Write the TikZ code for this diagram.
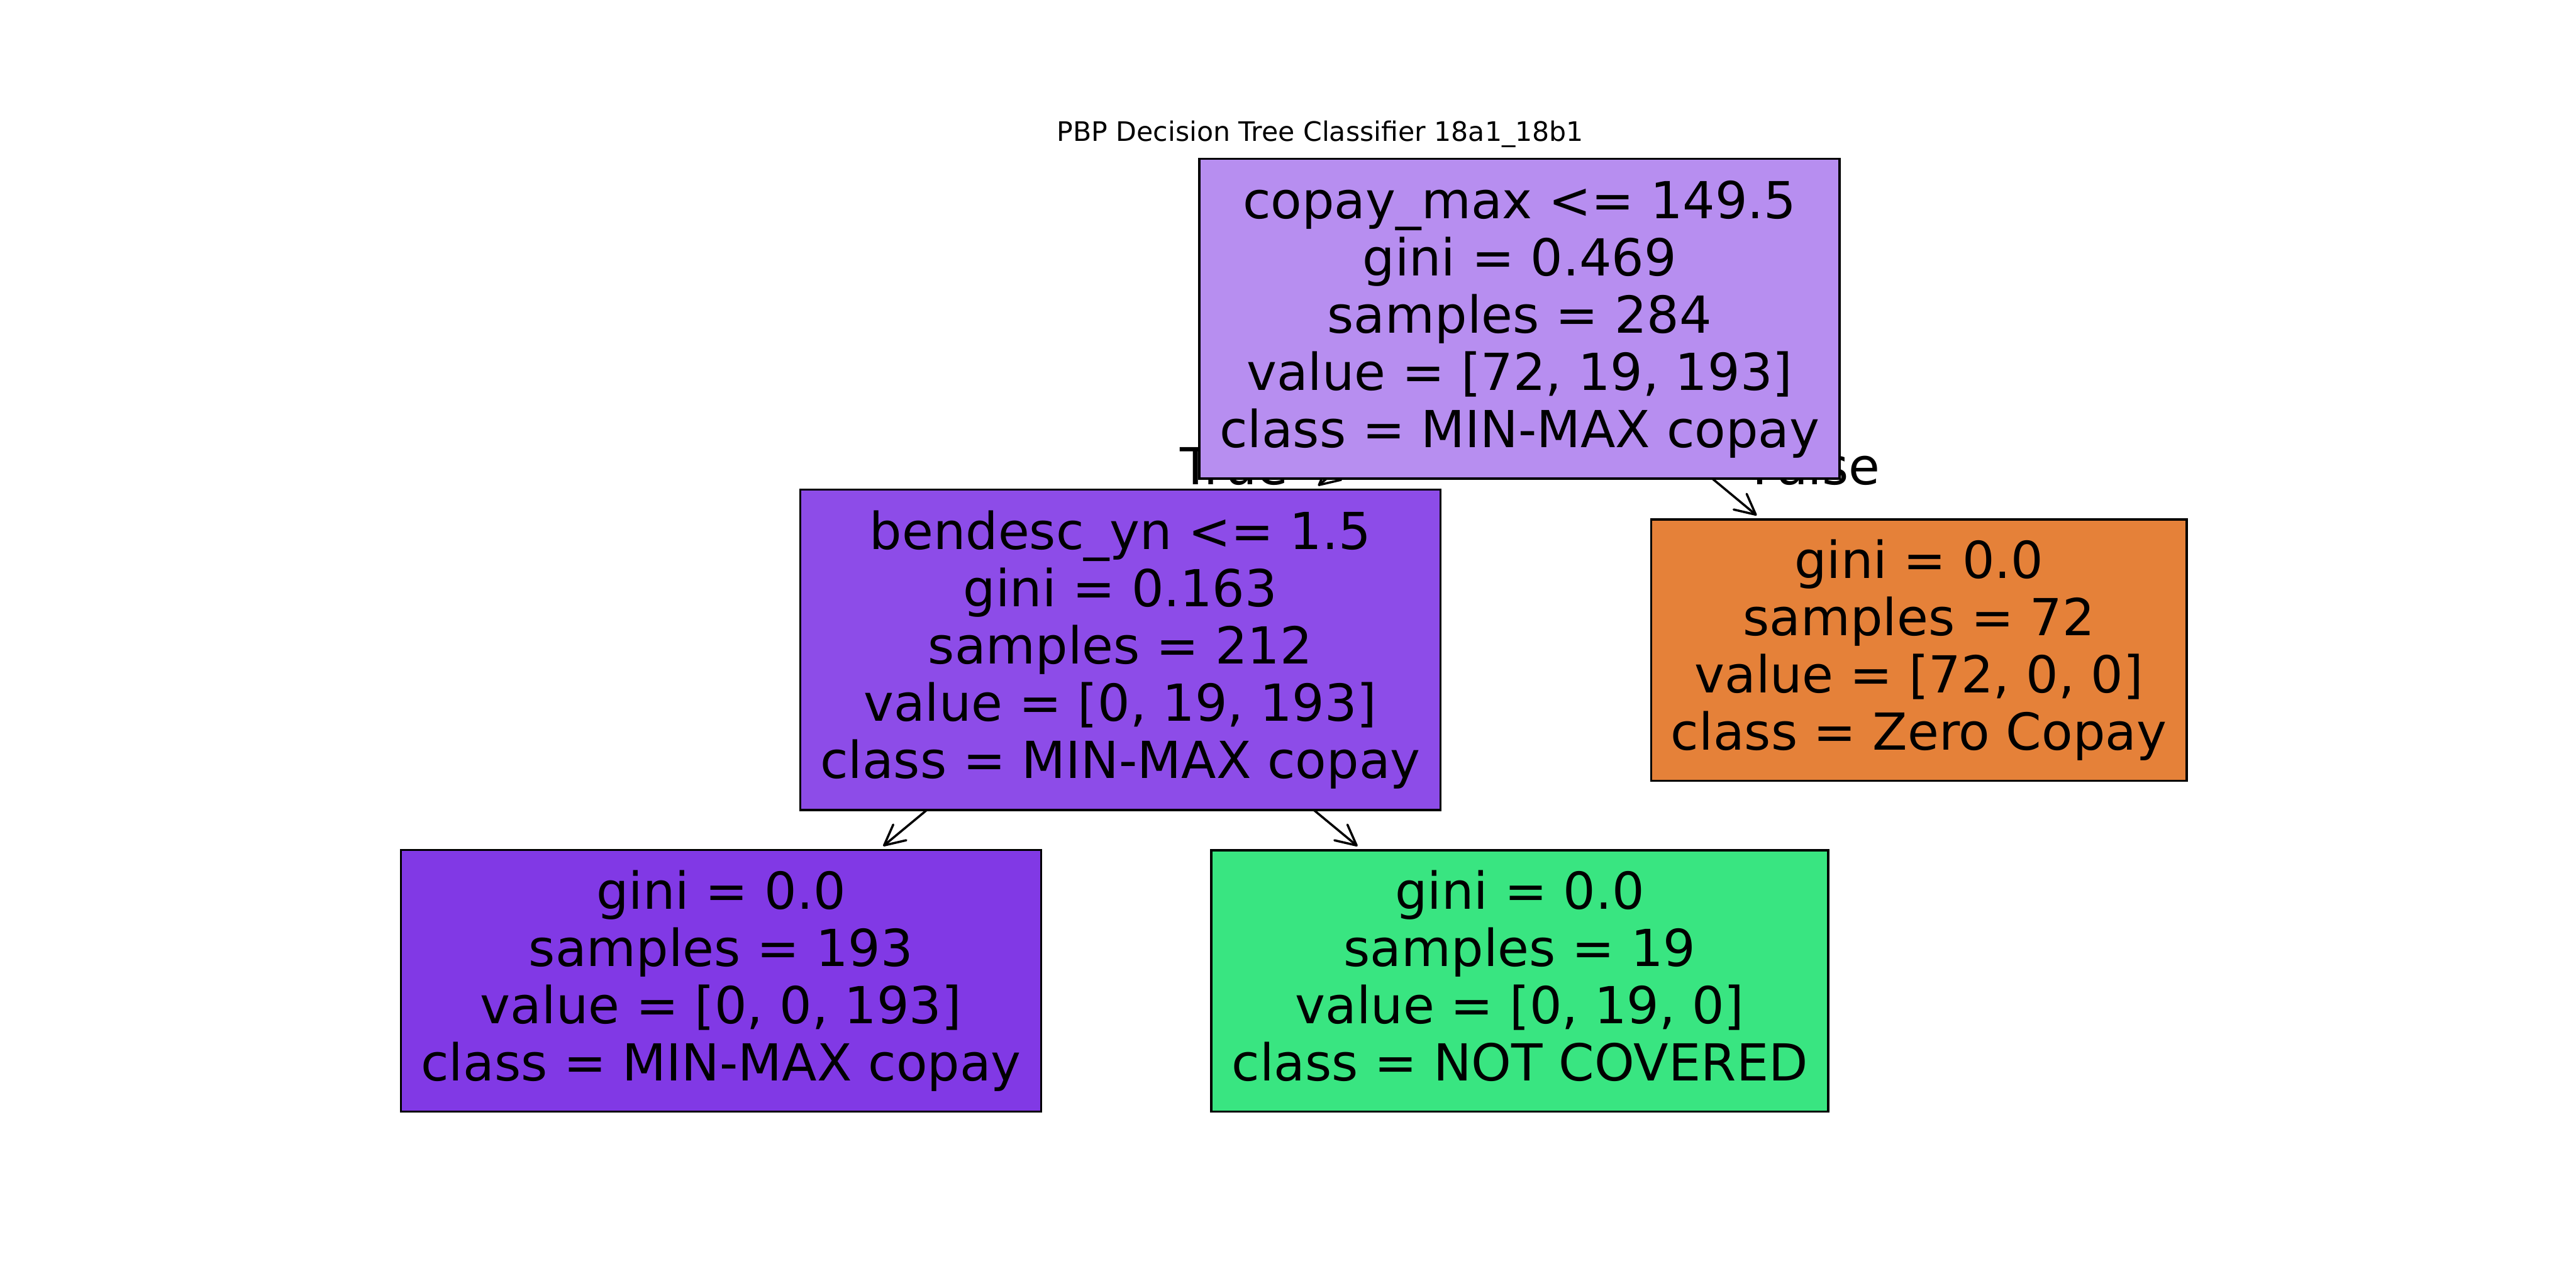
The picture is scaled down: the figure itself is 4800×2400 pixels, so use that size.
\documentclass[tikz,border=0pt]{standalone}
\usepackage{fontspec}
\setmainfont{DejaVu Sans}
\usetikzlibrary{arrows.meta,backgrounds}
\definecolor{rootc}{RGB}{183,142,240}
\definecolor{intc}{RGB}{141,76,232}
\definecolor{purp}{RGB}{129,57,229}
\definecolor{grn}{RGB}{57,229,129}
\definecolor{orng}{RGB}{229,129,57}
\tikzset{
  treebox/.style={draw=black, line width=1pt, rectangle, inner sep=0pt, align=center,
    font=\fontsize{22.8}{25.6}\selectfont},
  edgearrow/.style={draw=black, line width=1pt,
    -{Straight Barb[length=9.1pt,width=9.1pt,round]}, shorten >=2pt},
  edgelabel/.style={inner sep=0pt, font=\fontsize{22.8}{25.6}\selectfont, anchor=base west},
  titlelabel/.style={inner sep=0pt, font=\fontsize{12}{14.4}\selectfont, anchor=base}
}
\begin{document}
\begin{tikzpicture}[x=0.24pt,y=-0.24pt]
\useasboundingbox (0,0) rectangle (4800,2400);
\node[titlelabel] (title) at (2460,263) {PBP Decision Tree Classifier 18a1\_18b1};

\node[treebox, fill=rootc, minimum width=286.3pt, minimum height=143.0pt] (root) at (2831.5,594)
  {\vphantom{l}copay\_max <= 149.5\\gini = 0.469\\samples = 284\\value = [72, 19, 193]\\class = MIN-MAX copay};
\node[treebox, fill=intc, minimum width=286.3pt, minimum height=143.3pt] (inner) at (2087.5,1211)
  {bendesc\_yn <= 1.5\\gini = 0.163\\samples = 212\\value = [0, 19, 193]\\class = MIN-MAX copay};
\node[treebox, fill=orng, minimum width=239.5pt, minimum height=116.9pt] (zero) at (3575.5,1211.3)
  {gini = 0.0\\samples = 72\\value = [72, 0, 0]\\class = Zero Copay};
\node[treebox, fill=purp, minimum width=286.3pt, minimum height=116.9pt] (minmax) at (1343.5,1827.5)
  {gini = 0.0\\samples = 193\\value = [0, 0, 193]\\class = MIN-MAX copay};
\node[treebox, fill=grn, minimum width=275.8pt, minimum height=116.9pt] (notcov) at (2831.8,1827.6)
  {gini = 0.0\\samples = 19\\value = [0, 19, 0]\\class = NOT COVERED\vphantom{y}};

\begin{pgfonlayer}{background}
\fill[white] (0,0) rectangle (4800,2400);
\draw[edgearrow] (root.center) -- (inner);
\draw[edgearrow] (root.center) -- (zero);
\draw[edgearrow] (inner.center) -- (minmax);
\draw[edgearrow] (inner.center) -- (notcov);
\node[edgelabel] (truelbl) at (2198,903) {True};
\node[edgelabel] (falselbl) at (3264,903) {False};
\end{pgfonlayer}
\end{tikzpicture}
\end{document}
